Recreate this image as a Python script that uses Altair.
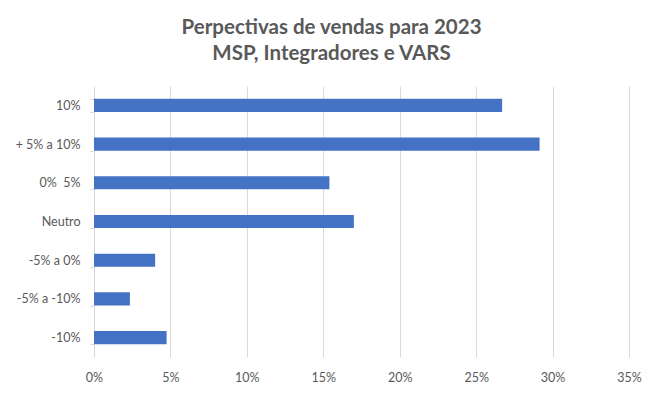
import altair as alt
import pandas as pd

categories = ["10%", "+ 5% a 10%", "0%\u00a0 5%", "Neutro", "-5% a 0%", "-5% a -10%", "-10%"]
values = [0.267, 0.2915, 0.154, 0.170, 0.040, 0.0235, 0.0475]
x_ticks = [0, 0.05, 0.10, 0.15, 0.20, 0.25, 0.30, 0.35]
title_lines = ["Perpectivas de vendas para 2023", "MSP, Integradores e VARS"]

df = pd.DataFrame({"cat": categories, "val": values})

FONT = "Lato"
GRAY = "#595959"
GRID = "#d9d9d9"

chart = alt.Chart(df).mark_bar(color="#4472C4").encode(
    x=alt.X("val:Q",
            scale=alt.Scale(domain=[0, 0.35], nice=False),
            axis=alt.Axis(values=x_ticks, format=".0%", title=None, domain=False,
                          ticks=False, grid=True, gridColor=GRID, gridWidth=1,
                          labelFont=FONT, labelFontSize=12.5, labelColor=GRAY,
                          labelFlush=False, labelPadding=14)),
    y=alt.Y("cat:N", sort=categories,
            scale=alt.Scale(paddingInner=0.66, paddingOuter=0.33),
            axis=alt.Axis(title=None, domain=True, domainColor=GRID, domainWidth=1,
                          ticks=True, tickBand="extent", tickColor=GRID, tickSize=4,
                          tickWidth=1, grid=False,
                          labelFont=FONT, labelFontSize=12.5, labelColor=GRAY,
                          labelPadding=10)),
).properties(
    width=535,
    height=271,
    autosize=alt.AutoSizeParams(type="none"),
    padding={"left": 86, "top": 78, "right": 23, "bottom": 31},
    title=alt.TitleParams(text=title_lines, font=FONT, fontSize=20.5, fontWeight="bold",
                          color=GRAY, anchor="middle", lineHeight=26, dx=-30, offset=16),
).configure_view(stroke=None)

chart.save("out.html", embed_options={"renderer": "svg", "actions": False})
